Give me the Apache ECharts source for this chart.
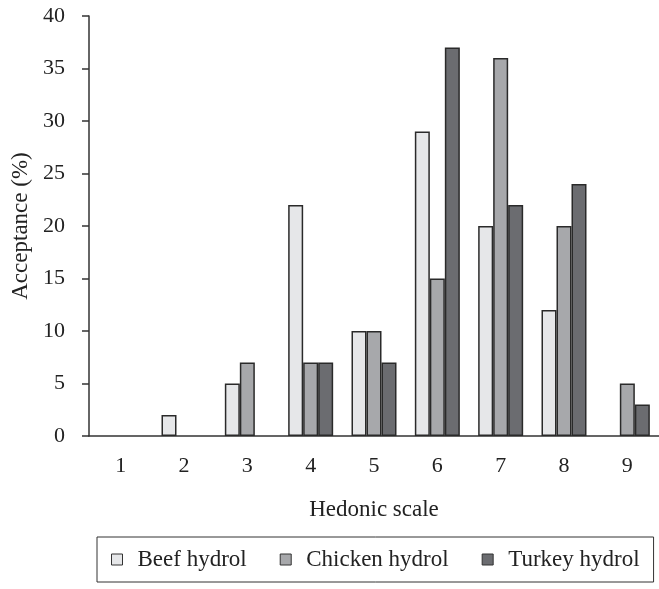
<!DOCTYPE html>
<html><head><meta charset="utf-8">
<script src="https://cdn.jsdelivr.net/npm/echarts@6/dist/echarts.min.js"></script>
<style>html,body{margin:0;padding:0;background:#fff}#c{width:659px;height:589px}</style>
</head><body><div id="c"></div>
<script>
const categories = ['1','2','3','4','5','6','7','8','9'];
const beef = [0, 2, 5, 22, 10, 29, 20, 12, 0];
const chicken = [0, 0, 7, 7, 10, 15, 36, 20, 5];
const turkey = [0, 0, 0, 7, 7, 37, 22, 24, 3];
const yTicks = [0, 5, 10, 15, 20, 25, 30, 35, 40];

const font = 'Liberation Serif';
function ser(name, data, color) {
  return {name, type: 'bar', barWidth: 15, barGap: '0%',
    data: data.map(v => v === 0 ? {value: v, itemStyle: {borderWidth: 0, opacity: 0}} : v),
    itemStyle: {color, borderColor: '#2a2a2a', borderWidth: 1.5}};
}
const chart = echarts.init(document.getElementById('c'));
chart.setOption({
  animation: false,
  textStyle: {fontFamily: font},
  grid: {left: 89, top: 16, right: 0, bottom: 153},
  xAxis: {type: 'category', data: categories,
    name: 'Hedonic scale', nameLocation: 'middle', nameGap: 62,
    nameTextStyle: {fontFamily: font, fontSize: 23, color: '#222'},
    axisLine: {lineStyle: {color: '#333', width: 1.5}},
    axisTick: {length: 6, lineStyle: {color: '#333', width: 1.5}},
    axisLabel: {fontFamily: font, fontSize: 22, color: '#222', margin: 19}},
  yAxis: {type: 'value', min: 0, max: 40, interval: 5,
    name: 'Acceptance (%)', nameLocation: 'middle', nameGap: 50,
    nameTextStyle: {fontFamily: font, fontSize: 23, color: '#222'},
    splitLine: {show: false},
    axisLine: {show: true, lineStyle: {color: '#333', width: 1.5}},
    axisTick: {show: true, length: 7, lineStyle: {color: '#333', width: 1.5}},
    axisLabel: {fontFamily: font, fontSize: 22, color: '#222', margin: 24,
      formatter: v => yTicks.includes(v) ? String(v) : ''}},
  legend: {left: 97, top: 537, orient: 'horizontal', icon: 'rect',
    borderColor: '#333', borderWidth: 1, padding: [11, 14, 11, 14],
    itemWidth: 11, itemHeight: 11, itemGap: 33,
    textStyle: {fontFamily: font, fontSize: 23, color: '#222', padding: [0, 0, 0, 10]},
    data: [
      {name: 'Beef hydrol', itemStyle: {color: '#e6e7e9', borderColor: '#333', borderWidth: 1}},
      {name: 'Chicken hydrol', itemStyle: {color: '#a7a8ab', borderColor: '#333', borderWidth: 1}},
      {name: 'Turkey hydrol', itemStyle: {color: '#6b6c70', borderColor: '#333', borderWidth: 1}}
    ]},
  series: [
    ser('Beef hydrol', beef, '#e6e7e9'),
    ser('Chicken hydrol', chicken, '#a7a8ab'),
    ser('Turkey hydrol', turkey, '#6b6c70')
  ]
});
</script></body></html>
